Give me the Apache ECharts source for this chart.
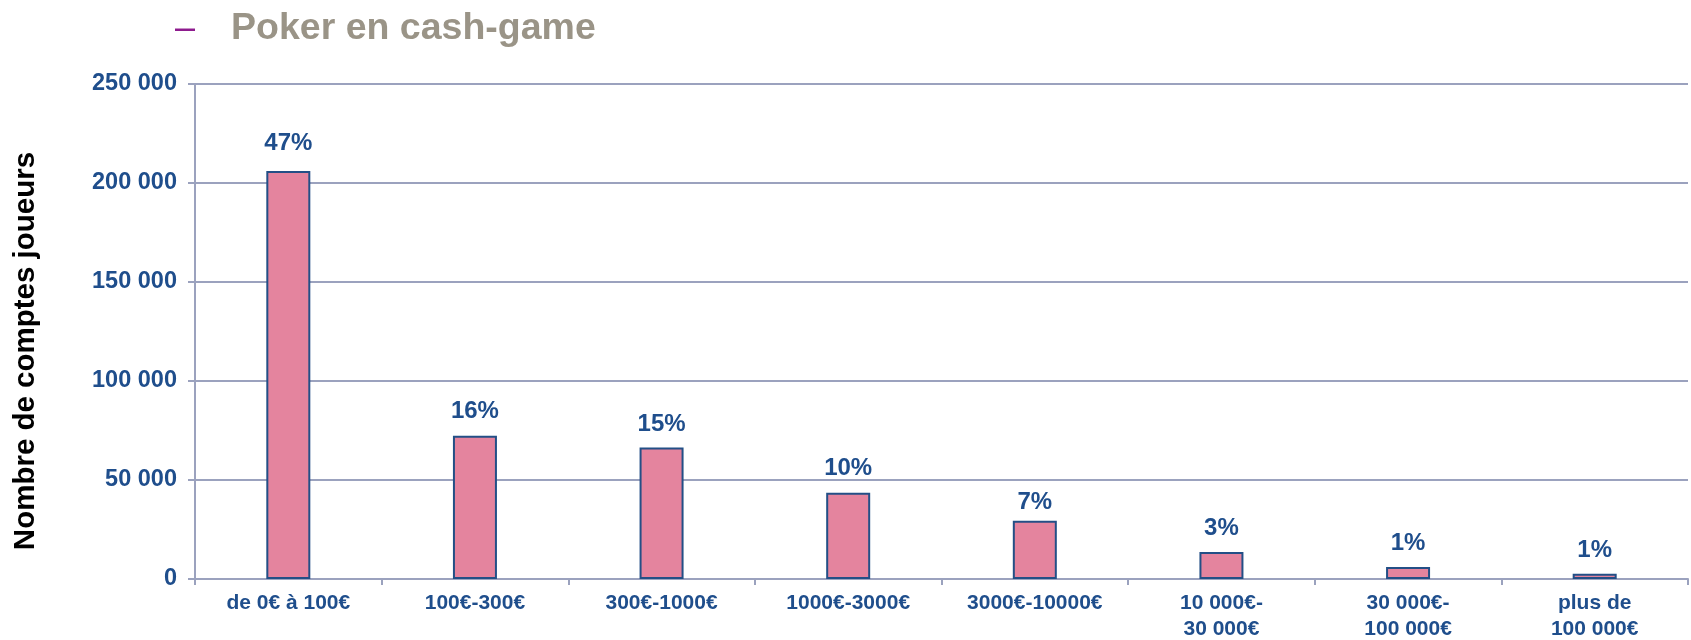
<!DOCTYPE html>
<html>
<head>
<meta charset="utf-8">
<script src="https://cdn.jsdelivr.net/npm/echarts@6/dist/echarts.min.js"></script>
<style>
html,body{margin:0;padding:0;background:#fff;}
#c{width:1691px;height:640px;}
</style>
</head>
<body>
<div id="c"></div>
<script>
const categories = ['de 0€ à 100€', '100€-300€', '300€-1000€', '1000€-3000€', '3000€-10000€', '10 000€-\n30 000€', '30 000€-\n100 000€', 'plus de\n100 000€'];
const accountCounts = [206000, 72400, 66400, 43500, 29400, 13600, 6000, 2700];
const pctLabels = ['47%', '16%', '15%', '10%', '7%', '3%', '1%', '1%'];
const yMin = 0, yMax = 250000, yStep = 50000;
const titleText = 'Poker en cash-game';
const yAxisTitle = 'Nombre de comptes joueurs';

// styling (label gaps above bars, px)
const labelGaps = [16, 12, 11, 12, 6, 12, 12, 11];
const FONT = '"Liberation Sans", Arial, Helvetica, sans-serif';
const BLUE = '#1F4E8C';
const GRID = '#9BA2BE';

const chart = echarts.init(document.getElementById('c'), null, {renderer: 'canvas'});
chart.setOption({
  animation: false,
  backgroundColor: '#ffffff',
  grid: {left: 195, right: 3, top: 84, bottom: 61, containLabel: false, outerBoundsMode: 'none'},
  graphic: [
    {type: 'text', left: 175, top: 11, style: {text: '–', fill: '#8E1B8E', font: 'normal 36px ' + FONT}},
    {type: 'text', left: 231, top: 10, style: {text: titleText, fill: '#9A9487', font: 'bold 37.5px ' + FONT}},
    {type: 'text', x: 26, y: 351, rotation: Math.PI / 2,
     style: {text: yAxisTitle, fill: '#000000', font: 'bold 29.5px ' + FONT, align: 'center', verticalAlign: 'middle'}}
  ],
  xAxis: {
    type: 'category',
    data: categories,
    boundaryGap: true,
    axisLine: {show: true, lineStyle: {color: GRID, width: 2}},
    axisTick: {show: true, length: 6, lineStyle: {color: GRID, width: 2}},
    axisLabel: {color: BLUE, fontFamily: FONT, fontWeight: 'bold', fontSize: 21, lineHeight: 26, margin: 11, interval: 0}
  },
  yAxis: {
    type: 'value',
    min: yMin, max: yMax, interval: yStep,
    axisLine: {show: true, lineStyle: {color: GRID, width: 2}},
    axisTick: {show: true, length: 7, lineStyle: {color: GRID, width: 2}},
    splitLine: {show: true, lineStyle: {color: GRID, width: 2}},
    axisLabel: {
      color: BLUE, fontFamily: FONT, fontWeight: 'bold', fontSize: 23.5, margin: 18,
      formatter: v => String(v).replace(/\B(?=(\d{3})+(?!\d))/g, ' ')
    }
  },
  series: [{
    type: 'bar',
    data: accountCounts.map((v, i) => ({value: v, label: {distance: labelGaps[i]}})),
    barWidth: 44,
    itemStyle: {color: '#E4849E', borderColor: '#234F86', borderWidth: 2},
    label: {
      show: true, position: 'top', distance: 12,
      color: BLUE, fontFamily: FONT, fontWeight: 'bold', fontSize: 24,
      formatter: p => pctLabels[p.dataIndex]
    }
  }]
});
</script>
</body>
</html>
